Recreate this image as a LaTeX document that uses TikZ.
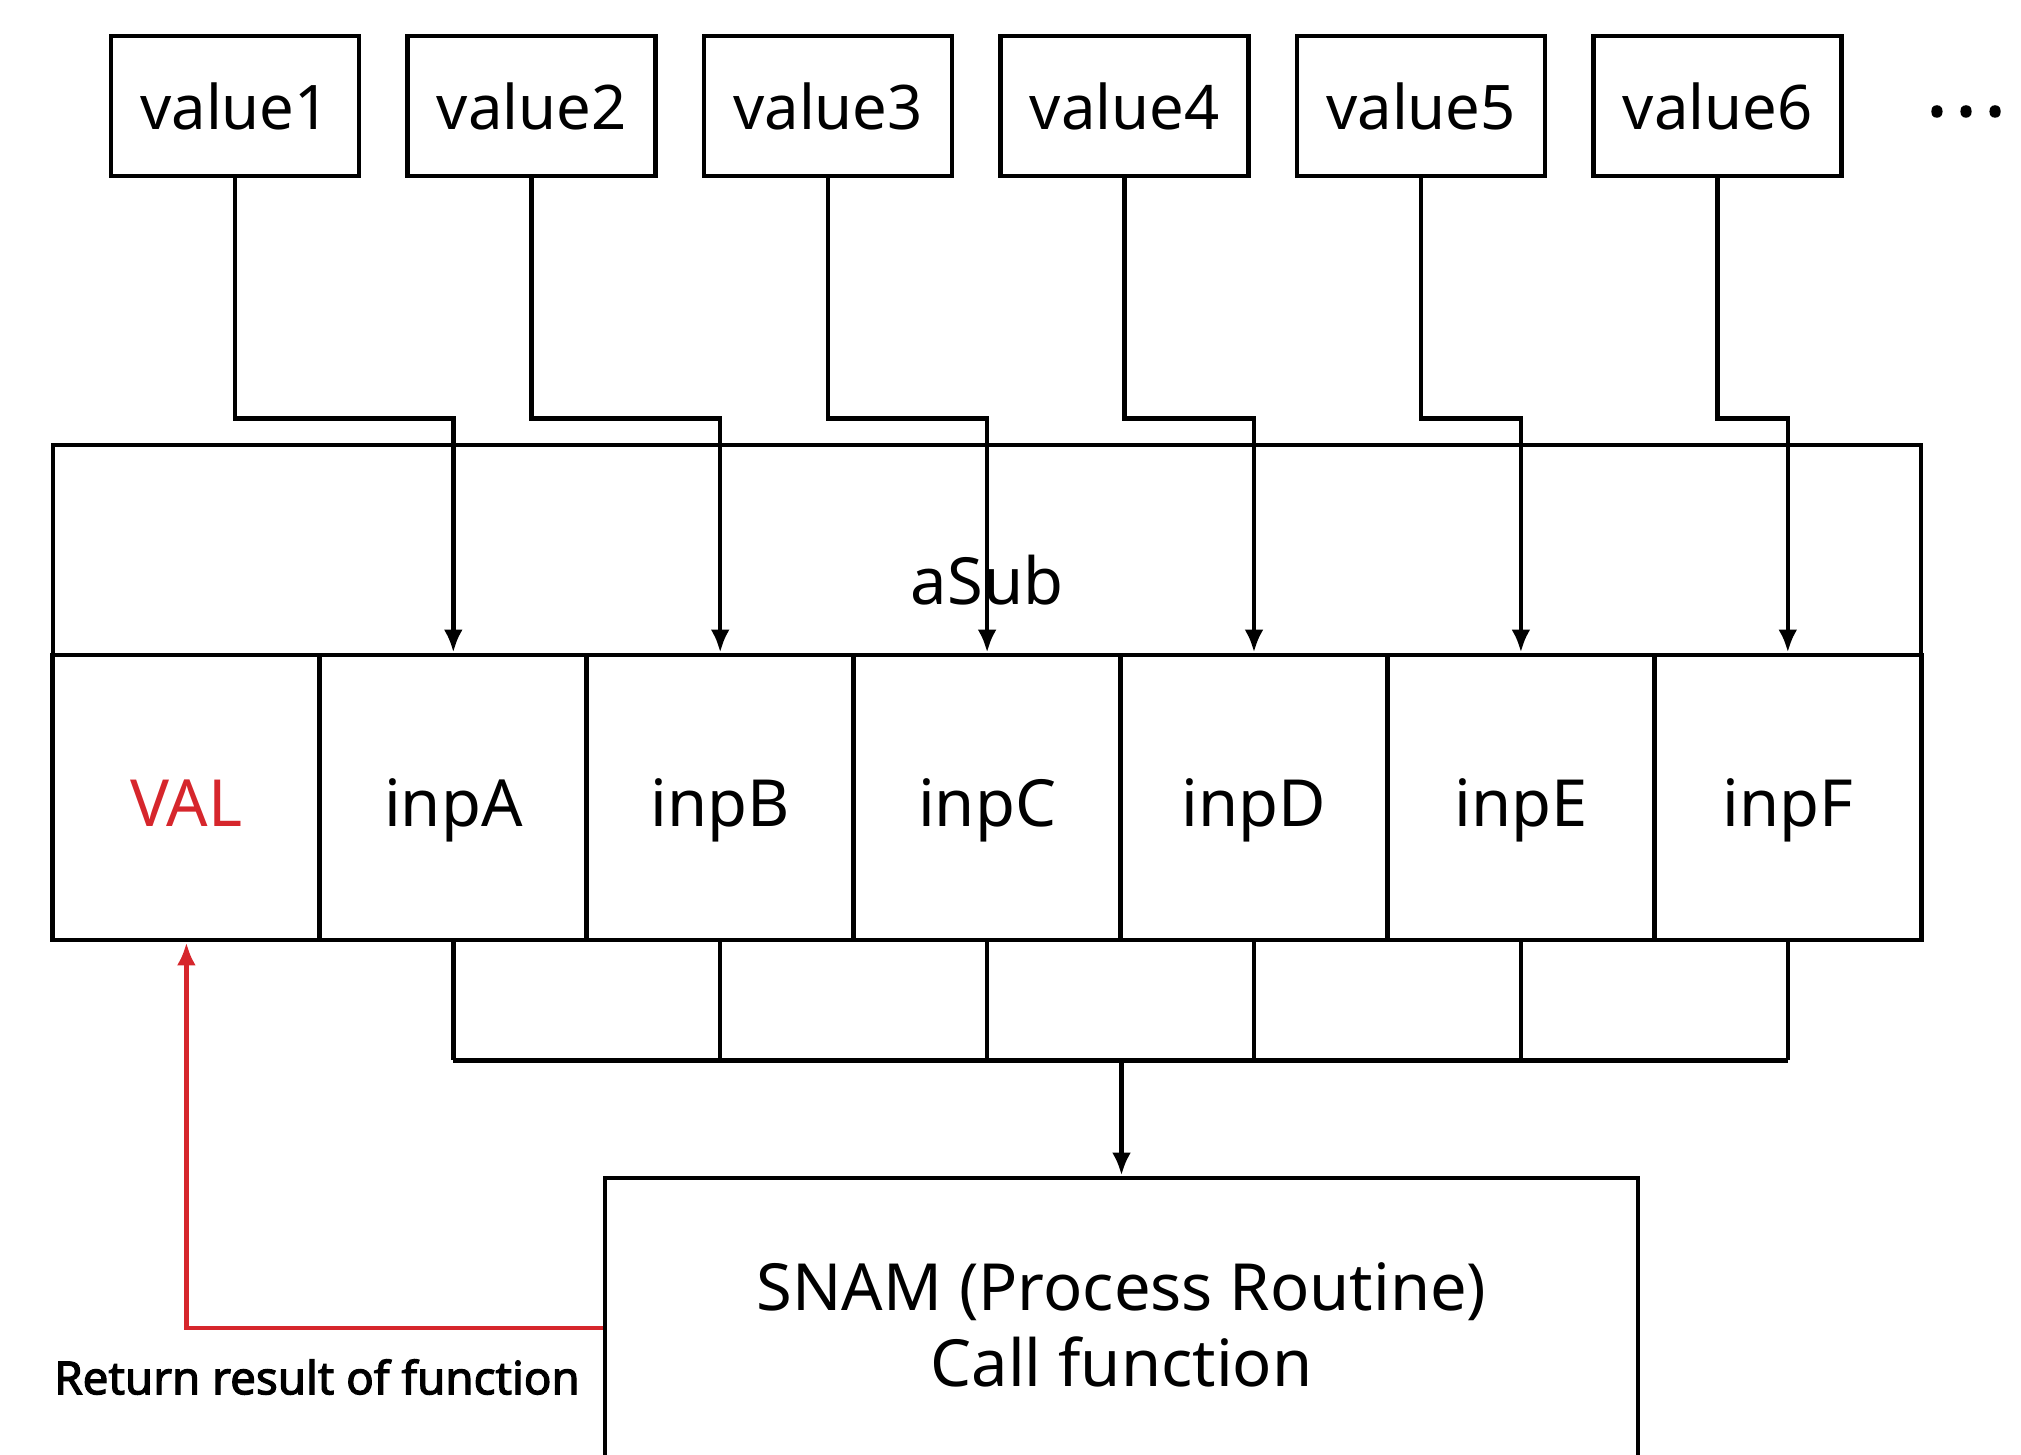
\documentclass[tikz,border=0pt]{standalone}
\usepackage{fontspec}
\setmainfont{Noto Sans}[AutoFakeBold=2.5]
\usepackage{xcolor}
\usetikzlibrary{calc, positioning, arrows.meta}

\definecolor{retred}{RGB}{214,38,44}

\begin{document}
\begin{tikzpicture}[>={Latex[length=2.3mm,width=1.9mm]}, line width=1.3pt,
    valbox/.style={draw, line width=1.4pt, minimum width=2.48cm, minimum height=1.40cm, inner sep=0pt,
        font=\fontsize{17.5}{20}\selectfont},
    cellbox/.style={draw, line width=1.4pt, minimum width=2.669cm, minimum height=2.85cm, inner sep=0pt,
        text height=0.77cm, text depth=0.2cm, font=\fontsize{18.5}{22}\selectfont}]
    % Khung hình
    \useasboundingbox (0,0) rectangle (20.21,14.54);
    \clip (0,0) rectangle (20.21,14.54);

    % Các giá trị đầu vào
    \foreach \i in {1,...,6} {
        \node[valbox] (v\i) at ({2.35+2.965*(\i-1)}, 13.48) {value\i};
    }
    \node[font=\bfseries\fontsize{13}{15}\selectfont] (more) at (19.66,13.37) {• • •};

    % Khối aSub
    \node[draw, line width=1.4pt, minimum width=18.68cm, minimum height=2.10cm] (asub) at (9.87,9.04) {};
    \node[font=\fontsize{18.5}{22}\selectfont] (asubtext) at (9.87,8.74) {aSub};

    % Các ô VAL, inpA ... inpF
    \node[cellbox, text=retred] (val) at (1.864,6.565) {VAL};
    \foreach \n [count=\k] in {A,B,C,D,E,F} {
        \node[cellbox] (inp\n) at ({1.864+2.669*\k}, 6.565) {inp\n};
    }

    % Nối giá trị vào ô
    \foreach \n [count=\i] in {A,B,C,D,E,F} {
        \draw[->] (v\i.south) -- ++(0,-2.4) -| (inp\n.north);
    }

    % Gom các ô xuống dưới
    \foreach \n in {A,B,C,D,E,F} {
        \draw (inp\n.south) -- ++(0,-1.18);
    }
    \draw ($(inpA.south)+(0,-1.18)$) coordinate (busL) -- ($(inpF.south)+(0,-1.18)$) coordinate (busR);

    % Khối SNAM
    \node[draw, line width=1.4pt, minimum width=10.33cm, minimum height=2.94cm, align=center,
        font=\fontsize{18.5}{21.6}\selectfont] (snam) at (11.215,1.29)
        {SNAM (Process Routine)\\Call function};
    \draw[->] (busL -| snam.north) -- (snam.north);

    % Trả kết quả về VAL
    \draw[->, retred] ([yshift=-0.3mm]snam.west) -| (val.south);
    \node[anchor=west, inner sep=0pt, font=\bfseries\fontsize{13}{15}\selectfont] (ret) at (0.52,0.77)
        {Return result of function};
\end{tikzpicture}
\end{document}
